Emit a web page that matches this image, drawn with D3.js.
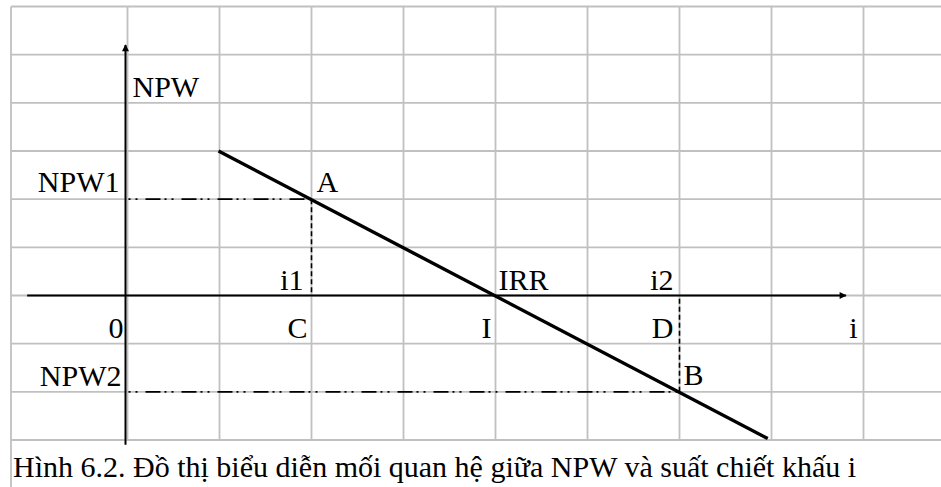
<!DOCTYPE html>
<html>
<head>
<meta charset="utf-8">
<script src="https://cdn.jsdelivr.net/npm/d3@7"></script>
<style>
  html, body { margin: 0; padding: 0; background: #fff; }
  svg { display: block; }
</style>
</head>
<body>
<svg id="chart" width="941" height="487"></svg>
<script>
// Discount-rate grid (i) and NPW grid
const iTicks = [0, 1, 2, 3, 4, 5, 6, 7, 8];
const npwTicks = [-3, -2, -1, 0, 1, 2, 3, 4, 5, 6];

// NPW as a function of the discount rate i (straight-line approximation)
const npwLine = [
  { i: 1, npw: 3 },
  { i: 6.97, npw: -2.97 }
];

// Key points on the line
const pointA = { i: 2, npw: 2 };   // i1, NPW1
const pointIRR = { i: 4, npw: 0 }; // IRR
const pointB = { i: 6, npw: -2 };  // i2, NPW2

const caption = "Hình 6.2. Đồ thị biểu diễn mối quan hệ giữa NPW và suất chiết khấu i";

const svg = d3.select("#chart");
const W = 941, H = 487;
const serif = "'Liberation Serif', 'Times New Roman', 'DejaVu Serif', serif";

const x = d3.scaleLinear().domain([0, 8]).range([126.5, 862.5]);
const y = d3.scaleLinear().domain([0, 6]).range([295.5, 6.5]);

const frameLeft = 11;
const gridColor = "#c0c0c0";

// Grid (table cells)
const grid = svg.append("g").attr("stroke", gridColor).attr("stroke-width", 1.8);
grid.selectAll("line.h").data(npwTicks).join("line")
  .attr("class", "h")
  .attr("x1", frameLeft).attr("x2", W)
  .attr("y1", d => y(d)).attr("y2", d => y(d));
grid.selectAll("line.v").data(iTicks).join("line")
  .attr("class", "v")
  .attr("x1", d => x(d) + 1).attr("x2", d => x(d) + 1)
  .attr("y1", y(6)).attr("y2", y(-3));
grid.append("line")
  .attr("x1", frameLeft).attr("x2", frameLeft)
  .attr("y1", y(6)).attr("y2", H);

// Arrow marker for the axes
const defs = svg.append("defs");
defs.append("marker")
  .attr("id", "arrow")
  .attr("viewBox", "0 0 10 10")
  .attr("refX", 9).attr("refY", 5)
  .attr("markerWidth", 10).attr("markerHeight", 7)
  .attr("markerUnits", "userSpaceOnUse")
  .attr("orient", "auto")
  .append("path").attr("d", "M0,0 L10,5 L0,10 Z").attr("fill", "#000");

// Axes
svg.append("line")
  .attr("x1", x(-1.08)).attr("x2", x(7.82))
  .attr("y1", y(0)).attr("y2", y(0))
  .attr("stroke", "#000").attr("stroke-width", 2)
  .attr("marker-end", "url(#arrow)");
svg.append("line")
  .attr("x1", x(0) - 1).attr("x2", x(0) - 1)
  .attr("y1", y(-3.1)).attr("y2", y(5.2))
  .attr("stroke", "#000").attr("stroke-width", 2)
  .attr("marker-end", "url(#arrow)");

// Dash-dot-dot guides from the NPW axis to A and B
const dashDotDot = "15,4,2,5,2,8";
[pointA, pointB].forEach(p => {
  svg.append("line")
    .attr("x1", x(0)).attr("x2", x(p.i))
    .attr("y1", y(p.npw)).attr("y2", y(p.npw))
    .attr("stroke", "#000").attr("stroke-width", 1.6)
    .attr("stroke-dasharray", dashDotDot)
    .attr("stroke-dashoffset", 17);
  svg.append("line")
    .attr("x1", x(p.i) + 1).attr("x2", x(p.i) + 1)
    .attr("y1", y(p.npw)).attr("y2", y(0))
    .attr("stroke", "#000").attr("stroke-width", 1.6)
    .attr("stroke-dasharray", "5,3");
});

// NPW line
const line = d3.line().x(d => x(d.i)).y(d => y(d.npw));
svg.append("path")
  .datum(npwLine)
  .attr("d", line)
  .attr("fill", "none")
  .attr("stroke", "#000")
  .attr("stroke-width", 3.4);

// Labels
const fs = 30;
function label(txt, px, py, anchor) {
  svg.append("text")
    .attr("x", px).attr("y", py)
    .attr("text-anchor", anchor || "start")
    .attr("font-family", serif)
    .attr("font-size", fs)
    .attr("fill", "#000")
    .text(txt);
}
const base0 = y(0);
label("NPW", x(0) + 6, 97);
label("NPW1", x(0) - 7, y(pointA.npw) - 7, "end");
label("A", x(pointA.i) + 6, y(pointA.npw) - 7);
label("i1", x(pointA.i) - 7, base0 - 6, "end");
label("IRR", x(pointIRR.i) + 4, base0 - 6);
label("i2", x(pointB.i) - 5, base0 - 6, "end");
label("0", x(0) - 3, base0 + 42, "end");
label("C", x(pointA.i) - 3, base0 + 42, "end");
label("I", x(pointIRR.i) - 3, base0 + 42, "end");
label("D", x(pointB.i) - 5, base0 + 42, "end");
label("i", x(8) - 5, base0 + 42, "end");
label("NPW2", x(0) - 5, y(pointB.npw) - 6, "end");
label("B", x(pointB.i) + 5, y(pointB.npw) - 7);

svg.append("text")
  .attr("x", 13).attr("y", 477)
  .attr("font-family", serif)
  .attr("font-size", fs)
  .attr("fill", "#000")
  .text(caption);
</script>
</body>
</html>
